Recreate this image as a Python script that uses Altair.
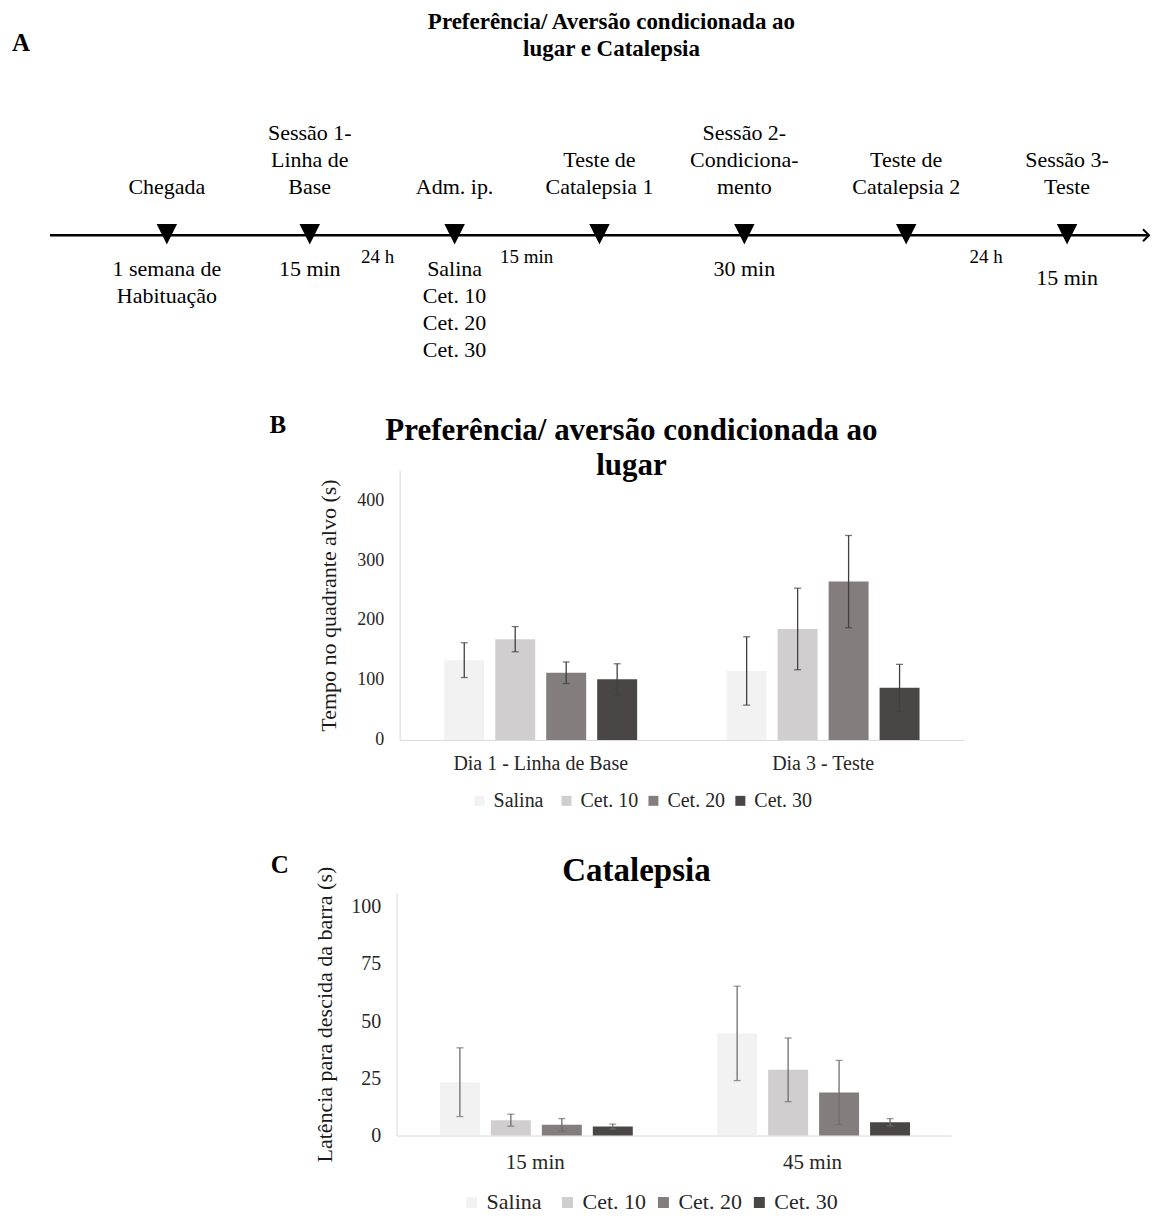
import altair as alt
import pandas as pd

FONT = "Liberation Serif"

# ---------------- Panel A : timeline schematic ----------------
event_pos = [167, 310, 455, 600, 745, 907, 1068]
event_above = ["Chegada", "Sessão 1-\nLinha de\nBase", "Adm. ip.", "Teste de\nCatalepsia 1",
               "Sessão 2-\nCondiciona-\nmento", "Teste de\nCatalepsia 2", "Sessão 3-\nTeste"]
event_below = ["1 semana de\nHabituação", "15 min", "Salina\nCet. 10\nCet. 20\nCet. 30", "",
               "30 min", "", "15 min"]
interval_pos = [378, 527, 987]
interval_labels = ["24 h", "15 min", "24 h"]
timeline_span = [50, 1150]
title_a = "Preferência/ Aversão condicionada ao\nlugar e Catalepsia"

# ---------------- Panel B ----------------
treatments = ["Salina", "Cet. 10", "Cet. 20", "Cet. 30"]
colors = ["#f2f2f2", "#d0cece", "#837d7d", "#4a4646"]
b_groups = ["Dia 1 - Linha de Base", "Dia 3 - Teste"]
b_mean_dia1 = [133, 168, 112, 101]
b_sem_dia1 = [29, 21, 18, 26]
b_mean_dia3 = [115, 185, 264, 87]
b_sem_dia3 = [57, 68, 77, 39]
b_ticks = [0, 100, 200, 300, 400]
title_b = "Preferência/ aversão condicionada ao\nlugar"

# ---------------- Panel C ----------------
c_groups = ["15 min", "45 min"]
c_mean_15 = [23.3, 6.7, 4.7, 3.9]
c_sem_15 = [15.0, 2.6, 2.7, 1.1]
c_mean_45 = [44.6, 28.7, 18.8, 5.8]
c_sem_45 = [20.6, 13.9, 14.0, 1.6]
c_ticks = [0, 25, 50, 75, 100]
title_c = "Catalepsia"


def make_df(groups, means, sems):
    rows = []
    for g, m_list, s_list in zip(groups, means, sems):
        for t, m, s in zip(treatments, m_list, s_list):
            rows.append({"group": g, "treatment": t, "mean": m, "lo": m - s, "hi": m + s})
    return pd.DataFrame(rows)


W = 1153

# ---------- Panel A chart ----------
xs = alt.Scale(domain=[0, W], nice=False, zero=False)
ev_df = pd.DataFrame({"pos": event_pos, "above": event_above, "below": event_below})
ev_df["n"] = [len(s.split("\n")) for s in event_above]


def xa(field):
    return alt.X(field, scale=xs, axis=None)


def txt(data, size, **kw):
    return alt.Chart(data).mark_text(font=FONT, fontSize=size, color="black", align="center", **kw)


a_line = alt.Chart(pd.DataFrame({"start": [timeline_span[0]], "end": [timeline_span[1]]})).mark_rule(
    color="black", strokeWidth=2.5).encode(x=xa("start:Q"), x2="end:Q", y=alt.value(235))
a_arrow = alt.Chart(pd.DataFrame({"end": [timeline_span[1]]})).mark_point(
    shape="M-1,-1L0,0L-1,1", filled=False, color="black", strokeWidth=2, size=144, opacity=1
).encode(x=xa("end:Q"), y=alt.value(235))
a_tri = alt.Chart(ev_df).mark_point(
    shape="M-1,-1L1,-1L0,1Z", filled=True, color="black", size=420, opacity=1
).encode(x=xa("pos:Q"), y=alt.value(234))

a_above = [
    txt(ev_df, 22, lineBreak="\n", lineHeight=27, baseline="bottom", dy=-(k - 1) * 27)
    .transform_filter(alt.datum.n == k)
    .encode(x=xa("pos:Q"), y=alt.value(199), text="above:N")
    for k in (1, 2, 3)
]
a_below = txt(ev_df.iloc[:-1], 22, lineBreak="\n", lineHeight=27, baseline="top").encode(
    x=xa("pos:Q"), y=alt.value(259), text="below:N")
a_below_last = txt(ev_df.iloc[-1:], 22, lineBreak="\n", lineHeight=27, baseline="top").encode(
    x=xa("pos:Q"), y=alt.value(268), text="below:N")
a_interval = txt(pd.DataFrame({"pos": interval_pos, "label": interval_labels}), 19,
                 baseline="middle").encode(x=xa("pos:Q"), y=alt.value(257), text="label:N")
a_title = txt(pd.DataFrame({"t": [title_a]}), 23, fontWeight="bold", lineBreak="\n",
              lineHeight=28, baseline="top").encode(x=alt.value(612), y=alt.value(10), text="t:N")
a_letter = txt(pd.DataFrame({"t": ["A"]}), 25, fontWeight="bold", baseline="middle").encode(
    x=alt.value(21), y=alt.value(43), text="t:N")

chart_a = alt.layer(a_line, a_arrow, a_tri, *a_above, a_below, a_below_last, a_interval,
                    a_title, a_letter).properties(width=W, height=390)


# ---------- bar panel builder (whole panel is the view; plot region set by scale ranges) ----------
def bar_panel(df, groups, height, x0, x1, ytop, ybot, ymax, yvals, ytitle, pi, po,
              title, title_size, title_x, title_y, letter, letter_x, letter_y,
              xlab_size, ylab_size, ytitle_size, ytitle_pad, xlab_pad,
              leg_x, leg_y, leg_size, sym_size, col_pad, err_color):
    base = alt.Chart(df)
    X = alt.X("group:N", sort=groups, title=None,
              scale=alt.Scale(range=[x0, x1], paddingInner=pi, paddingOuter=po),
              axis=alt.Axis(labelAngle=0, ticks=False, domainColor="#d9d9d9", domainWidth=1,
                            labelFont=FONT, labelFontSize=xlab_size, labelColor="#262626",
                            labelPadding=xlab_pad, grid=False, offset=ybot - height))
    XO = alt.XOffset("treatment:N", sort=treatments,
                     scale=alt.Scale(paddingInner=0.216, paddingOuter=0))
    yaxis = alt.Axis(values=yvals, title=ytitle, ticks=False, grid=False, domainColor="#d9d9d9",
                     labelFont=FONT, labelFontSize=ylab_size, labelColor="#262626", labelPadding=16,
                     titleFont=FONT, titleFontSize=ytitle_size, titleFontWeight="normal",
                     titleColor="#1a1a1a", titlePadding=ytitle_pad, offset=-x0)
    ysc = alt.Scale(domain=[0, ymax], range=[ybot, ytop], nice=False)
    bars = base.mark_bar().encode(
        x=X, xOffset=XO,
        y=alt.Y("mean:Q", scale=ysc, axis=yaxis),
        color=alt.Color("treatment:N", sort=treatments,
                        scale=alt.Scale(domain=treatments, range=colors),
                        legend=alt.Legend(orient="none", legendX=leg_x, legendY=leg_y,
                                          direction="horizontal", title=None, symbolType="square",
                                          symbolSize=sym_size, symbolStrokeWidth=0,
                                          labelFont=FONT, labelFontSize=leg_size,
                                          labelColor="#262626", columnPadding=col_pad,
                                          labelOffset=4, gridAlign="all")),
    )
    rule = base.mark_rule(color=err_color, strokeWidth=1.3).encode(
        x=X, xOffset=XO, y=alt.Y("lo:Q", scale=ysc, axis=yaxis), y2="hi:Q")
    cap_hi = base.mark_tick(color=err_color, thickness=1.3, size=7).encode(
        x=X, xOffset=XO, y=alt.Y("hi:Q", scale=ysc, axis=yaxis))
    cap_lo = base.mark_tick(color=err_color, thickness=1.3, size=7).encode(
        x=X, xOffset=XO, y=alt.Y("lo:Q", scale=ysc, axis=yaxis))
    ttl = txt(pd.DataFrame({"t": [title]}), title_size, fontWeight="bold", lineBreak="\n",
              lineHeight=title_size + 4, baseline="top").encode(
        x=alt.value(title_x), y=alt.value(title_y), text="t:N")
    let = txt(pd.DataFrame({"t": [letter]}), 25, fontWeight="bold", baseline="middle").encode(
        x=alt.value(letter_x), y=alt.value(letter_y), text="t:N")
    return alt.layer(bars, rule, cap_hi, cap_lo, ttl, let).properties(width=W, height=height)


df_b = make_df(b_groups, [b_mean_dia1, b_mean_dia3], [b_sem_dia1, b_sem_dia3])
df_c = make_df(c_groups, [c_mean_15, c_mean_45], [c_sem_15, c_sem_45])

# panel B occupies page y 390..830, panel C 830..1216
chart_b = bar_panel(df_b, b_groups, 440, 400, 965, 80, 350, 450, b_ticks,
                    "Tempo no quadrante alvo (s)", 0.317, 0.158,
                    title_b, 31, 632, 26, "B", 278, 35,
                    20, 18, 22, 16, 14,
                    470, 401, 20, 100, 5, "#3f3f3f")
chart_c = bar_panel(df_c, c_groups, 386, 397, 952, 63, 306, 106, c_ticks,
                    "Latência para descida da barra (s)", 0.312, 0.156,
                    title_c, 33, 637, 25, "C", 280, 35,
                    21, 20, 22, 14, 16,
                    461, 362, 22, 121, 6, "#6e6e6e")

chart = (
    alt.vconcat(chart_a, chart_b, chart_c, spacing=0, padding=0)
    .resolve_scale(color="independent")
    .resolve_legend(color="independent")
    .configure(font=FONT, background="white")
    .configure_view(stroke="transparent", strokeWidth=0)
)

chart.save("out.html", embed_options={"renderer": "svg", "actions": False})
